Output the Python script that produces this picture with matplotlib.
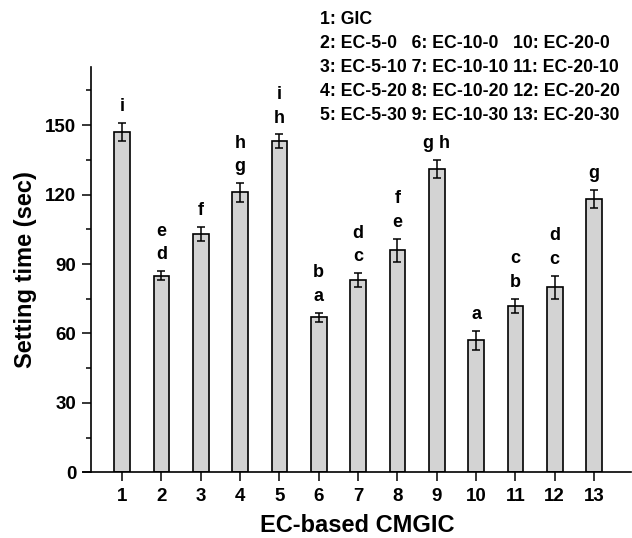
import matplotlib

matplotlib.use("Agg")
import matplotlib.pyplot as plt
from matplotlib.ticker import MultipleLocator

# data
groups = list(range(1, 14))
setting_time = [147, 85, 103, 121, 143, 67, 83, 96, 131, 57, 72, 80, 118]
std_err = [4, 2, 3, 4, 3, 2, 3, 5, 4, 4, 3, 5, 4]
letters = ["i", "e\nd", "f", "h\ng", "i\nh", "b\na", "d\nc", "f\ne",
           "g h", "a", "c\nb", "d\nc", "g"]
key_lines = [
    "1: GIC",
    "2: EC-5-0   6: EC-10-0   10: EC-20-0",
    "3: EC-5-10 7: EC-10-10 11: EC-20-10",
    "4: EC-5-20 8: EC-10-20 12: EC-20-20",
    "5: EC-5-30 9: EC-10-30 13: EC-20-30",
]

plt.rcParams["font.family"] = ["Liberation Sans", "DejaVu Sans"]
plt.rcParams["font.weight"] = "bold"

fig = plt.figure(figsize=(6.32, 5.38), dpi=100)
ax = fig.add_axes([0.1309, 0.1221, 0.8676, 0.7528])

ax.bar(groups, setting_time, width=0.4, color="#d3d3d3",
       edgecolor="black", linewidth=1.2, zorder=2)
ax.errorbar(groups, setting_time, yerr=std_err, fmt="none", ecolor="black",
            elinewidth=1.1, capsize=3.2, capthick=1.1, zorder=3)

for x, y, e, lab in zip(groups, setting_time, std_err, letters):
    ax.annotate(lab, (x, y + e), xytext=(0, 8.5), textcoords="offset points",
                ha="center", va="baseline", fontsize=13, fontweight="bold",
                linespacing=1.5)

ax.set_xlim(0, 13.94)
ax.set_ylim(0, 175)
ax.set_xticks(groups)
ax.yaxis.set_major_locator(MultipleLocator(30))
ax.yaxis.set_minor_locator(MultipleLocator(15))
ax.spines["top"].set_visible(False)
ax.spines["right"].set_visible(False)
ax.spines["left"].set_position(("data", 0.21))
for side in ("left", "bottom"):
    ax.spines[side].set_linewidth(1.2)
ax.tick_params(axis="both", which="major", direction="out", length=6.5,
               width=1.1, labelsize=13.5, pad=5)
ax.tick_params(axis="y", which="minor", direction="out", length=3.3, width=1.1)
ax.tick_params(axis="y", which="major", pad=4)
for lbl in ax.get_xticklabels() + ax.get_yticklabels():
    lbl.set_fontweight("bold")

ax.set_xlabel("EC-based CMGIC", fontsize=17, fontweight="bold", labelpad=6)
ax.set_ylabel("Setting time (sec)", fontsize=17, fontweight="bold", labelpad=6)

for i, line in enumerate(key_lines):
    fig.text(320 / 632, 1 - (20 + 24 * i) / 538, line, ha="left", va="center",
             fontsize=12.7, fontweight="bold")

fig.savefig("out.png", dpi=100)
